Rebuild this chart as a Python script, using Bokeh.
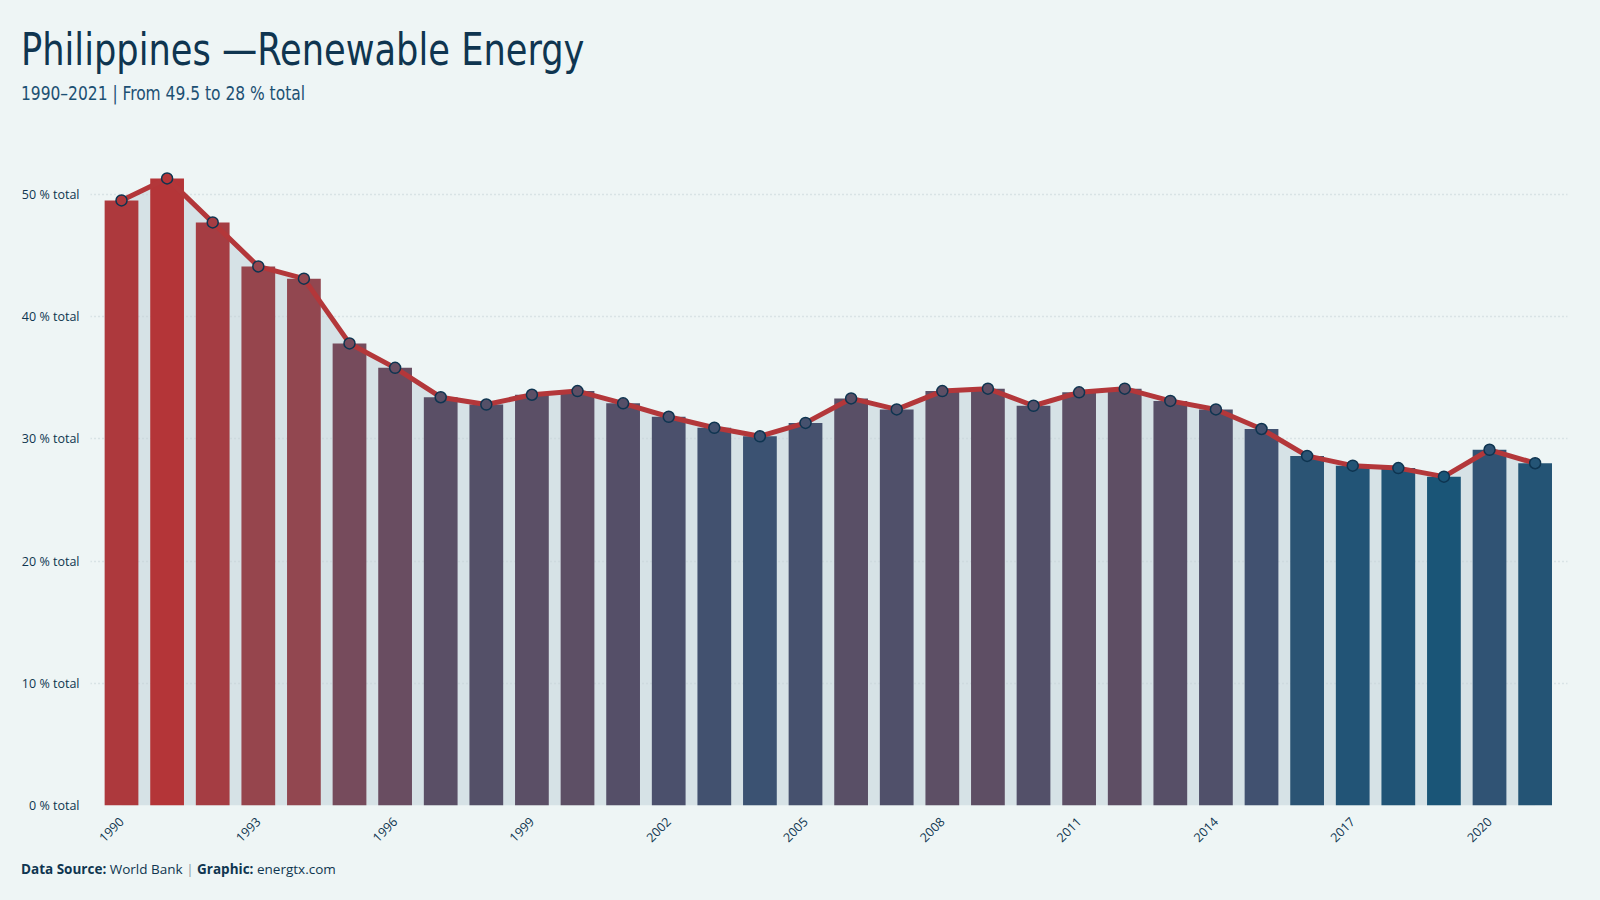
import numpy as np
from bokeh.plotting import figure
from bokeh.models import Range1d, FixedTicker, Div
from bokeh.layouts import column
from bokeh.embed import file_html
from bokeh.resources import INLINE

# Renewable energy share of total final energy consumption, Philippines
years = list(range(1990, 2022))
share = [49.5, 51.3, 47.7, 44.1, 43.1, 37.8, 35.8, 33.4, 32.8, 33.6,
         33.9, 32.9, 31.8, 30.9, 30.2, 31.3, 33.3, 32.4, 33.9, 34.1,
         32.7, 33.8, 34.1, 33.1, 32.4, 30.8, 28.6, 27.8, 27.6, 26.9,
         29.1, 28.0]
x_ticks = list(range(1990, 2022, 3))
y_ticks = [0, 10, 20, 30, 40, 50]
y_tick_labels = [f"{t} % total" for t in y_ticks]

TITLE = "Philippines \u2014Renewable Energy"
SUBTITLE = "1990\u20132021 | From 49.5 to 28 % total"

# value -> colour ramp (blue for low shares, red for high shares)
ramp_at = [27.0, 30.2, 33.4, 37.8, 43.1, 51.3]
ramp_hex = ["#1a5577", "#3b5272", "#5a4f66", "#764b5c", "#924750", "#b43538"]


def ramp(v):
    rgb = np.array([[int(h[i:i + 2], 16) for i in (1, 3, 5)] for h in ramp_hex])
    c = [int(round(np.interp(v, ramp_at, rgb[:, k]))) for k in range(3)]
    return "#%02x%02x%02x" % tuple(c)


colors = [ramp(v) for v in share]

BG = "#eef5f5"
NAVY = "#0f3550"
W = 1600
COND = "'DejaVu Sans Condensed','Liberation Sans Narrow',sans-serif"

# ---- header -------------------------------------------------------------
header = Div(
    width=W, height=140,
    styles={"background-color": BG, "margin": "0", "padding": "0"},
    text=(
        f'<div style="position:absolute;left:21px;top:28px;white-space:nowrap;'
        f'font-family:{COND};font-size:44px;line-height:1;color:{NAVY};'
        f'transform:scaleX(0.89);transform-origin:0 0">{TITLE}</div>'
        f'<div style="position:absolute;left:21px;top:83px;white-space:nowrap;'
        f'font-family:{COND};font-size:20px;line-height:1;color:#1c5073;'
        f'transform:scaleX(0.86);transform-origin:0 0">{SUBTITLE}</div>'
    ),
)

# ---- chart --------------------------------------------------------------
p = figure(width=W, height=710, output_backend="svg", toolbar_location=None,
           x_range=Range1d(1989.32, 2021.71), y_range=Range1d(0, 54.4),
           min_border_left=90, min_border_right=33, min_border_top=0,
           min_border_bottom=45)
p.background_fill_color = BG
p.border_fill_color = BG
p.outline_line_color = None

# shaded area under the trend line, kept beneath the grid
p.varea(x=years, y1=0, y2=share, fill_color="#d6e2e6", level="image")

p.vbar(x=years, top=share, width=0.74, fill_color=colors, line_color=None)
p.line(years, share, line_color="#b3373a", line_width=5)
p.scatter(years, share, size=11, fill_color=colors, line_color="#0e3450",
          line_width=1.5)

p.xgrid.grid_line_color = None
p.ygrid.ticker = FixedTicker(ticks=y_ticks)
p.ygrid.grid_line_color = "#c3d1d5"
p.ygrid.grid_line_dash = "1 3"
p.ygrid.grid_line_width = 1.5

p.yaxis.ticker = FixedTicker(ticks=y_ticks)
p.yaxis.major_label_overrides = {t: s for t, s in zip(y_ticks, y_tick_labels)}
p.xaxis.ticker = FixedTicker(ticks=x_ticks)
p.xaxis.major_label_overrides = {t: str(t) for t in x_ticks}
p.xaxis.major_label_orientation = np.pi / 4
for ax in (p.xaxis, p.yaxis):
    ax.axis_line_color = None
    ax.major_tick_line_color = None
    ax.minor_tick_line_color = None
    ax.major_label_text_font = "Open Sans"
    ax.major_label_text_font_size = "12.5px"
    ax.major_label_text_color = NAVY
p.yaxis.major_label_standoff = 5
p.xaxis.major_label_standoff = 8

# ---- footer -------------------------------------------------------------
footer = Div(
    width=W, height=50,
    styles={"background-color": BG, "margin": "0", "padding": "0"},
    text=(
        f'<div style="position:absolute;left:21px;top:13px;white-space:nowrap;'
        f'font-family:\'Open Sans\',sans-serif;font-size:13.5px;line-height:1;'
        f'color:{NAVY}"><b>Data Source:</b> World Bank '
        f'<span style="color:#8a9aa5">|</span> <b>Graphic:</b> energtx.com</div>'
    ),
)

page = column(header, p, footer, spacing=0, styles={"background-color": BG})
open("out.html", "w").write(file_html(page, INLINE))
